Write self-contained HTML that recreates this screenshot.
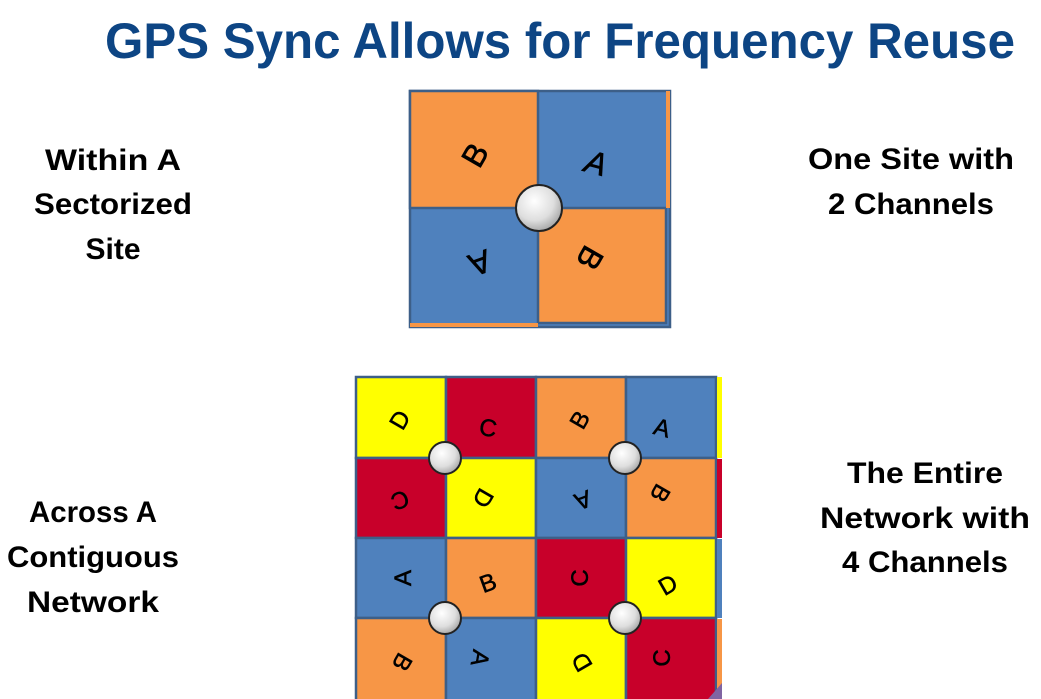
<!DOCTYPE html>
<html><head><meta charset="utf-8"><style>
html,body{margin:0;padding:0;background:#fff;width:1041px;height:699px;overflow:hidden}
</style></head><body>
<svg width="1041" height="699" viewBox="0 0 1041 699" xmlns="http://www.w3.org/2000/svg" font-family="Liberation Sans, sans-serif">
<defs>
<radialGradient id="g" cx="40%" cy="35%" r="70%">
<stop offset="0" stop-color="#ffffff"/><stop offset="0.6" stop-color="#dedede"/><stop offset="1" stop-color="#a0a0a0"/>
</radialGradient>
</defs>
<text x="560" y="58" text-anchor="middle" font-size="50" font-weight="bold" fill="#0d4584" textLength="910" lengthAdjust="spacingAndGlyphs">GPS Sync Allows for Frequency Reuse</text>

<g font-size="30" font-weight="bold" fill="#000" text-anchor="middle">
<text x="113" y="170" textLength="136" lengthAdjust="spacingAndGlyphs">Within A</text>
<text x="113" y="214" textLength="158" lengthAdjust="spacingAndGlyphs">Sectorized</text>
<text x="113" y="259">Site</text>
<text x="911" y="169" textLength="206" lengthAdjust="spacingAndGlyphs">One Site with</text>
<text x="911" y="214" textLength="166" lengthAdjust="spacingAndGlyphs">2 Channels</text>
<text x="93" y="522" textLength="128" lengthAdjust="spacingAndGlyphs">Across A</text>
<text x="93" y="567" textLength="172" lengthAdjust="spacingAndGlyphs">Contiguous</text>
<text x="93" y="612" textLength="132" lengthAdjust="spacingAndGlyphs">Network</text>
<text x="925" y="483" textLength="156" lengthAdjust="spacingAndGlyphs">The Entire</text>
<text x="925" y="528" textLength="210" lengthAdjust="spacingAndGlyphs">Network with</text>
<text x="925" y="572" textLength="166" lengthAdjust="spacingAndGlyphs">4 Channels</text>
</g>

<g stroke="#3d5f88" stroke-width="2.5">
<rect x="410" y="91" width="260" height="236" fill="#4f81bd"/>
<rect x="410" y="91" width="128" height="117" fill="#f79646"/>
<rect x="538" y="208" width="128" height="115" fill="#f79646"/>
<rect x="666" y="91" width="4" height="117" fill="#f79646" stroke="none"/>
<rect x="410" y="323" width="128" height="4" fill="#f79646" stroke="none"/>
</g>
<g font-size="32" fill="#000" text-anchor="middle" stroke="#000" stroke-width="0.6">
<text transform="translate(475,155) rotate(-60)" y="11">B</text>
<text transform="translate(596,163) rotate(15)" y="11" font-style="italic">A</text>
<text transform="translate(480,263) rotate(160)" y="11">A</text>
<text transform="translate(590,258) rotate(120)" y="11">B</text>
</g>
<circle cx="539" cy="208" r="23" fill="url(#g)" stroke="#222" stroke-width="2"/>

<g stroke="#3d5f88" stroke-width="2.5">
<rect x="356" y="377" width="90" height="81" fill="#ffff00"/>
<rect x="446" y="377" width="90" height="81" fill="#c8002a"/>
<rect x="536" y="377" width="90" height="81" fill="#f79646"/>
<rect x="626" y="377" width="90" height="81" fill="#4f81bd"/>
<rect x="356" y="458" width="90" height="80" fill="#c8002a"/>
<rect x="446" y="458" width="90" height="80" fill="#ffff00"/>
<rect x="536" y="458" width="90" height="80" fill="#4f81bd"/>
<rect x="626" y="458" width="90" height="80" fill="#f79646"/>
<rect x="356" y="538" width="90" height="80" fill="#4f81bd"/>
<rect x="446" y="538" width="90" height="80" fill="#f79646"/>
<rect x="536" y="538" width="90" height="80" fill="#c8002a"/>
<rect x="626" y="538" width="90" height="80" fill="#ffff00"/>
<rect x="356" y="618" width="90" height="84" fill="#f79646"/>
<rect x="446" y="618" width="90" height="84" fill="#4f81bd"/>
<rect x="536" y="618" width="90" height="84" fill="#ffff00"/>
<rect x="626" y="618" width="90" height="84" fill="#c8002a"/>
</g>
<rect x="717" y="377" width="5" height="81" fill="#ffff00"/>
<rect x="717" y="459" width="5" height="79" fill="#c8002a"/>
<rect x="717" y="539" width="5" height="79" fill="#4f81bd"/>
<rect x="717" y="619" width="5" height="80" fill="#f79646"/>
<g font-size="24" fill="#000" text-anchor="middle" stroke="#000" stroke-width="0.5">
<text transform="translate(400,420) rotate(-60)" y="8">D</text>
<text transform="translate(488,428) rotate(10)" y="8">C</text>
<text transform="translate(580,420) rotate(-60)" y="8">B</text>
<text transform="translate(662,428) rotate(15)" y="8">A</text>
<text transform="translate(400,500) rotate(160)" y="8">C</text>
<text transform="translate(483,498) rotate(120)" y="8">D</text>
<text transform="translate(583,500) rotate(160)" y="8">A</text>
<text transform="translate(660,493) rotate(120)" y="8">B</text>
<text transform="translate(403,578) rotate(-90)" y="8">A</text>
<text transform="translate(488,583) rotate(-20)" y="8">B</text>
<text transform="translate(580,578) rotate(-90)" y="8">C</text>
<text transform="translate(668,585) rotate(-30)" y="8">D</text>
<text transform="translate(402,662) rotate(120)" y="8">B</text>
<text transform="translate(480,658) rotate(100)" y="8">A</text>
<text transform="translate(582,662) rotate(-120)" y="8">D</text>
<text transform="translate(662,658) rotate(-90)" y="8">C</text>
</g>
<polygon points="708,699 722,683 722,699" fill="#8064a2"/>
<g fill="url(#g)" stroke="#222" stroke-width="2">
<circle cx="445" cy="458" r="16"/>
<circle cx="625" cy="458" r="16"/>
<circle cx="445" cy="618" r="16"/>
<circle cx="625" cy="618" r="16"/>
</g>
</svg>
</body></html>
